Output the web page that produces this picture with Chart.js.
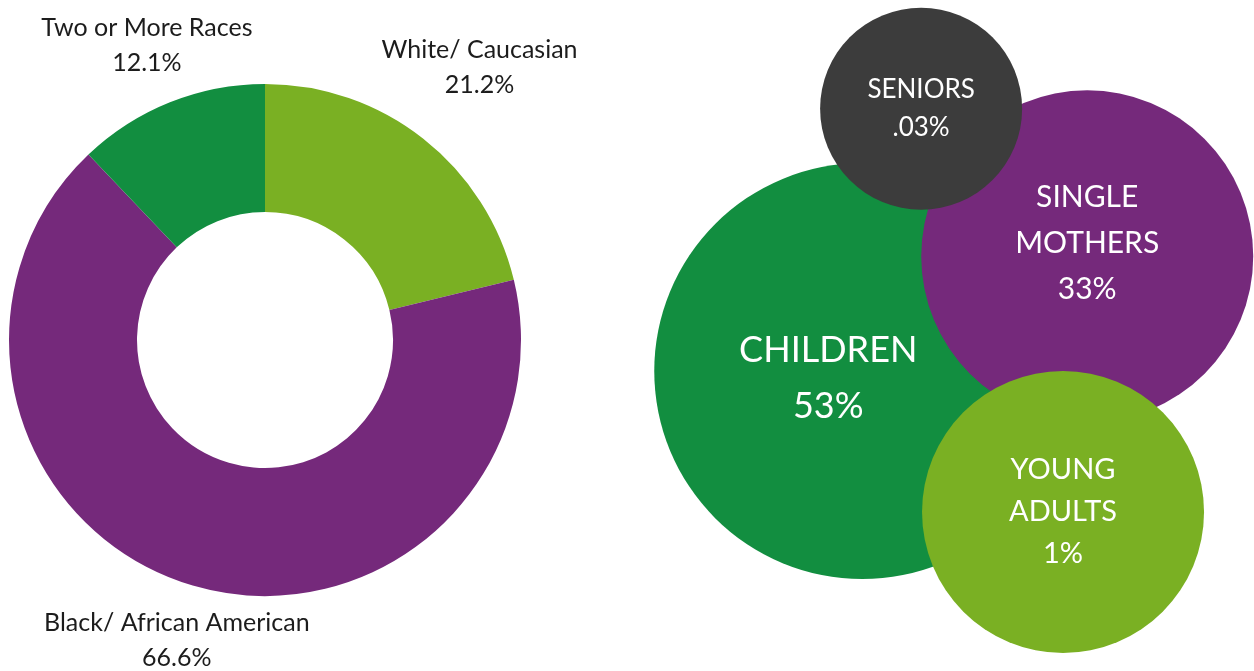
<!DOCTYPE html>
<html>
<head>
<meta charset="utf-8">
<script src="https://cdn.jsdelivr.net/npm/chart.js@4.4.0/dist/chart.umd.min.js"></script>
<style>
    html, body { margin: 0; padding: 0; background: #fff; overflow: hidden; }
    #race-chart { position: absolute; left: 0; top: 0; }
    #group-chart { position: absolute; left: 600px; top: 0; }
</style>
</head>
<body>
<canvas id="race-chart" width="600" height="671"></canvas>
<canvas id="group-chart" width="654" height="671"></canvas>
<script>
// Race breakdown (doughnut)
const raceLabels = ['White/ Caucasian', 'Black/ African American', 'Two or More Races'];
const raceShares = [21.2, 66.6, 12.1];
const raceColors = ['#7ab023', '#75297b', '#128e40'];

// Groups served (bubbles), x/y in 0-100 units, r in px
const groupNames = [['CHILDREN'], ['SINGLE', 'MOTHERS'], ['SENIORS'], ['YOUNG', 'ADULTS']];
const groupShares = [53, 33, 0.03, 1];
const groupX = [40.1, 74.5, 49.1, 70.8];
const groupY = [44.7, 61.8, 83.8, 23.7];
const groupR = [208, 166, 101, 141];
const groupColors = ['#128e40', '#75297b', '#3c3c3c', '#7ab023'];

// label styling
const raceLabelDist = [1.355, 1.22, 1.242];   // label centre, in outer radii
const groupFontSize = [36, 30, 26, 29];
const groupLineGap = [56, 46, 38, 42];
const groupTextShift = [[-34, 7], [0, -13], [0, 0], [0, 0]];

const FONT = 'Lato, "Open Sans", sans-serif';

function pctText(v) {
    return String(v).replace(/^0\./, '.') + '%';
}

const outLabels = {
    id: 'outLabels',
    afterDraw(chart) {
        const ctx = chart.ctx;
        const meta = chart.getDatasetMeta(0);
        ctx.save();
        ctx.font = '25px ' + FONT;
        ctx.fillStyle = '#1c1c1c';
        ctx.textAlign = 'center';
        ctx.textBaseline = 'middle';
        meta.data.forEach((arc, i) => {
            const mid = (arc.startAngle + arc.endAngle) / 2;
            const d = arc.outerRadius * raceLabelDist[i];
            const cx = arc.x + d * Math.cos(mid);
            const cy = arc.y + d * Math.sin(mid);
            ctx.fillText(chart.data.labels[i], cx, cy - 17);
            ctx.fillText(pctText(raceShares[i]), cx, cy + 18);
        });
        ctx.restore();
    }
};

const bubbleText = {
    id: 'bubbleText',
    afterDatasetsDraw(chart) {
        const ctx = chart.ctx;
        const meta = chart.getDatasetMeta(0);
        ctx.save();
        ctx.fillStyle = '#ffffff';
        ctx.textAlign = 'center';
        ctx.textBaseline = 'middle';
        meta.data.forEach((pt, i) => {
            const lines = groupNames[i].concat([pctText(groupShares[i])]);
            const gap = groupLineGap[i];
            ctx.font = groupFontSize[i] + 'px ' + FONT;
            const x = pt.x + groupTextShift[i][0];
            const y0 = pt.y + groupTextShift[i][1] - gap * (lines.length - 1) / 2;
            lines.forEach((t, k) => ctx.fillText(t, x, y0 + k * gap));
        });
        ctx.restore();
    }
};

new Chart(document.getElementById('race-chart'), {
    type: 'doughnut',
    data: {
        labels: raceLabels,
        datasets: [{
            data: raceShares,
            backgroundColor: raceColors,
            borderWidth: 0
        }]
    },
    options: {
        responsive: false,
        animation: false,
        cutout: '50%',
        layout: { padding: { left: 9, right: 79, top: 84, bottom: 75 } },
        plugins: {
            legend: { display: false },
            tooltip: { enabled: false }
        }
    },
    plugins: [outLabels]
});

new Chart(document.getElementById('group-chart'), {
    type: 'bubble',
    data: {
        datasets: [{
            data: groupX.map((x, i) => ({ x: x, y: groupY[i], r: groupR[i] })),
            backgroundColor: groupColors,
            borderWidth: 0,
            hoverBorderWidth: 0,
            clip: false
        }]
    },
    options: {
        responsive: false,
        animation: false,
        layout: { padding: 0, autoPadding: false },
        scales: {
            x: { type: 'linear', min: 0, max: 100, display: false },
            y: { type: 'linear', min: 0, max: 100, display: false }
        },
        plugins: {
            legend: { display: false },
            tooltip: { enabled: false }
        }
    },
    plugins: [bubbleText]
});
</script>
</body>
</html>
